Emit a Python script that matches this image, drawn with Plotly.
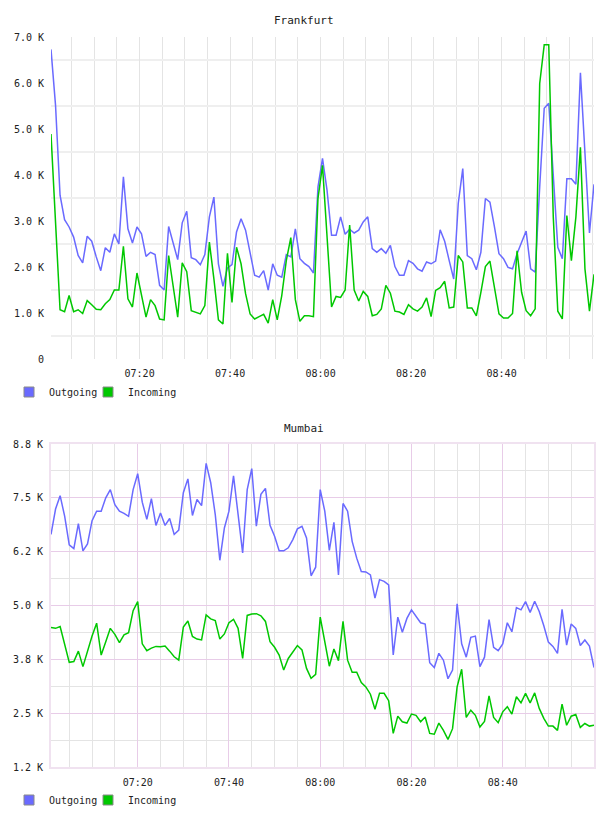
import pandas as pd
import plotly.graph_objects as go

# ---------------- data (values in thousands) ----------------
frankfurt_outgoing = [
    6.73, 5.52, 3.56, 3.03, 2.87, 2.65, 2.25, 2.09, 2.67, 2.56, 2.22, 1.92, 2.42, 2.32, 2.72, 2.50,
    3.96, 2.83, 2.52, 2.87, 2.72, 2.23, 2.32, 2.27, 1.60, 1.50, 2.88, 2.54, 2.16, 2.96, 3.21, 2.20,
    2.16, 2.05, 2.27, 3.09, 3.52, 2.07, 1.58, 1.98, 2.05,
    2.76, 3.05, 2.80, 2.30, 1.82, 1.78, 1.92, 1.50, 2.07, 1.82, 1.78, 2.27, 2.22, 2.83, 2.18, 2.08,
    2.01, 1.87, 3.74, 4.36, 3.67, 2.69, 2.69, 3.09, 2.71, 2.82, 2.74, 2.80, 2.98, 3.09, 2.40, 2.32,
    2.40, 2.30, 2.47, 2.01, 1.82, 1.82, 2.14, 2.08,
    1.96, 1.91, 2.11, 2.07, 2.13, 2.81, 2.56, 2.14, 1.74, 3.38, 4.14, 2.25, 2.18, 1.94, 2.32, 3.49,
    3.41, 2.87, 2.29, 2.18, 1.99, 1.96, 2.29, 2.54, 2.78, 1.96, 1.89, 3.74, 5.45, 5.56, 3.96, 2.43,
    2.18, 3.92, 3.92, 3.80, 6.22, 4.39, 2.74, 3.80,
]
frankfurt_incoming = [
    4.89, 2.90, 1.07, 1.03, 1.38, 1.03, 1.07, 0.99, 1.27, 1.18, 1.08, 1.07, 1.20, 1.29, 1.50, 1.50,
    2.45, 1.31, 1.13, 1.87, 1.38, 0.91, 1.29, 1.16, 0.87, 0.85, 2.25, 1.60, 0.91, 2.09, 1.90, 1.05,
    1.02, 0.98, 1.16, 2.54, 1.74, 0.85, 0.76, 2.30, 1.23,
    2.43, 2.07, 1.42, 0.98, 0.87, 0.92, 0.97, 0.78, 1.29, 0.85, 1.38, 2.14, 2.64, 1.29, 0.82, 0.94,
    0.94, 0.92, 3.49, 4.21, 2.72, 1.13, 1.36, 1.34, 1.50, 2.91, 1.50, 1.26, 1.47, 1.36, 0.94, 0.97,
    1.09, 1.60, 1.43, 1.04, 1.02, 0.97, 1.18, 1.09,
    1.04, 1.13, 1.33, 0.92, 1.49, 1.55, 1.69, 1.11, 1.13, 2.25, 2.11, 1.11, 1.11, 0.94, 1.45, 2.01,
    2.13, 1.56, 0.98, 0.89, 0.89, 0.99, 2.35, 1.45, 1.05, 0.94, 1.09, 5.99, 6.83, 6.83, 3.09, 1.04,
    0.87, 3.12, 2.14, 3.09, 4.60, 1.96, 1.04, 1.84,
]
mumbai_outgoing = [
    6.65, 7.24, 7.55, 7.07, 6.41, 6.32, 6.90, 6.27, 6.43, 6.97, 7.19, 7.19, 7.50, 7.69, 7.34, 7.19,
    7.14, 7.07, 7.69, 8.06, 7.40, 7.00, 7.48, 6.86, 7.15, 6.86, 7.02, 6.65, 6.75, 7.62, 7.94, 7.09,
    7.46, 7.32, 8.30, 7.85, 7.11, 6.05, 6.80, 7.19, 8.01,
    7.11, 6.22, 7.69, 8.18, 6.84, 7.58, 7.72, 6.86, 6.61, 6.27, 6.27, 6.34, 6.53, 6.78, 6.84, 6.57,
    5.69, 5.89, 7.69, 7.19, 6.28, 6.93, 5.71, 7.37, 7.19, 6.49, 6.10, 5.79, 5.78, 5.71, 5.17, 5.60,
    5.56, 5.48, 3.85, 4.73, 4.38, 4.70, 4.90, 4.76,
    4.60, 4.57, 3.67, 3.56, 3.89, 3.73, 3.30, 3.50, 5.04, 4.11, 3.80, 4.26, 4.29, 3.58, 3.80, 4.67,
    4.03, 3.95, 4.11, 4.60, 4.39, 4.95, 4.90, 5.09, 4.84, 5.10, 4.86, 4.53, 4.15, 4.05, 3.89, 4.91,
    4.08, 4.57, 4.47, 4.07, 4.20, 4.06, 3.56,
]
mumbai_incoming = [
    4.49, 4.47, 4.51, 4.11, 3.68, 3.70, 3.94, 3.58, 3.94, 4.29, 4.59, 3.85, 4.16, 4.47, 4.33, 4.14,
    4.32, 4.37, 4.88, 5.09, 4.11, 3.95, 4.01, 4.05, 4.04, 4.06, 3.94, 3.81, 3.73, 4.50, 4.64, 4.28,
    4.22, 4.20, 4.78, 4.69, 4.65, 4.22, 4.34, 4.60, 4.68,
    4.47, 3.77, 4.77, 4.80, 4.81, 4.76, 4.63, 4.16, 4.03, 3.85, 3.50, 3.77, 3.93, 4.07, 3.97, 3.54,
    3.31, 3.40, 4.73, 4.12, 3.59, 3.99, 3.72, 4.63, 3.73, 3.45, 3.45, 3.21, 3.11, 2.94, 2.59, 2.96,
    2.96, 2.79, 2.03, 2.43, 2.30, 2.27, 2.48, 2.45,
    2.30, 2.41, 2.03, 2.01, 2.27, 2.10, 1.89, 2.14, 3.11, 3.52, 2.40, 2.57, 2.45, 2.18, 2.31, 2.90,
    2.40, 2.28, 2.53, 2.65, 2.48, 2.88, 2.74, 2.96, 2.74, 2.97, 2.61, 2.38, 2.20, 2.20, 2.10, 2.71,
    2.22, 2.43, 2.47, 2.17, 2.26, 2.20, 2.22,
]

frankfurt_start = "2024-01-01 07:00:25"
mumbai_start = "2024-01-01 07:01:00"

time_tickvals = ["2024-01-01 07:20", "2024-01-01 07:40", "2024-01-01 08:00",
                 "2024-01-01 08:20", "2024-01-01 08:40"]
time_ticktext = ["07:20", "07:40", "08:00", "08:20", "08:40"]

frankfurt_yticks = [0, 1, 2, 3, 4, 5, 6, 7]
frankfurt_yticktext = ["0", "1.0 K", "2.0 K", "3.0 K", "4.0 K", "5.0 K", "6.0 K", "7.0 K"]
mumbai_yticks = [1.25, 2.5, 3.75, 5.0, 6.25, 7.5, 8.75]
mumbai_yticktext = ["1.2 K", "2.5 K", "3.8 K", "5.0 K", "6.2 K", "7.5 K", "8.8 K"]

series_names = ["Outgoing", "Incoming"]
titles = ["Frankfurt", "Mumbai"]

# ---------------- styling ----------------
FONT = "DejaVu Sans Mono"
BLUE = "#6a6aff"
GREEN = "#00c800"
GRID_GRAY = "#e4e4e4"
GRID_LIGHT = "#efefef"
PURPLE = "#e8cce8"
BORDER = "#f0e2f0"

t_fr = pd.date_range(frankfurt_start, periods=len(frankfurt_outgoing), freq="1min")
t_mu = pd.date_range(mumbai_start, periods=len(mumbai_outgoing), freq="1min")

fig = go.Figure()

fig.add_trace(go.Scatter(x=t_fr, y=frankfurt_outgoing, mode="lines", name=series_names[0],
                         line=dict(color=BLUE, width=1.5), xaxis="x", yaxis="y", showlegend=False))
fig.add_trace(go.Scatter(x=t_fr, y=frankfurt_incoming, mode="lines", name=series_names[1],
                         line=dict(color=GREEN, width=1.5), xaxis="x", yaxis="y", showlegend=False))
fig.add_trace(go.Scatter(x=t_mu, y=mumbai_outgoing, mode="lines", name=series_names[0],
                         line=dict(color=BLUE, width=1.5), xaxis="x2", yaxis="y2", showlegend=False))
fig.add_trace(go.Scatter(x=t_mu, y=mumbai_incoming, mode="lines", name=series_names[1],
                         line=dict(color=GREEN, width=1.5), xaxis="x2", yaxis="y2", showlegend=False))

W, H = 608, 816


def px_x(p):
    return p / W


def px_y(p):
    return 1 - p / H


# one single-entry legend per swatch so that each can be placed like the original
legend_ids = [["legend", "legend2"], ["legend3", "legend4"]]
legend_rows = [392, 800]
legend_cols = [9, 88]
axes_pairs = [("x", "y"), ("x2", "y2")]
legend_layout = {}
for chart in range(2):
    xa, ya = axes_pairs[chart]
    for k, (name, col) in enumerate(zip(series_names, [BLUE, GREEN])):
        lid = legend_ids[chart][k]
        fig.add_trace(go.Scatter(x=[None], y=[None], mode="markers", name=name, legend=lid,
                                 xaxis=xa, yaxis=ya,
                                 marker=dict(symbol="square", size=10, color=col,
                                             line=dict(color="#8a8a8a", width=1))))
        legend_layout[lid] = dict(
            x=px_x(legend_cols[k]), xanchor="left", y=px_y(legend_rows[chart]), yanchor="middle",
            font=dict(family=FONT, size=10, color="#222"), bgcolor="rgba(0,0,0,0)",
            itemclick=False, itemdoubleclick=False)

tickfont = dict(family=FONT, size=10, color="#222")


def xaxis_style(t, anchor, major_color):
    return dict(
        domain=[px_x(51), px_x(594)], anchor=anchor, automargin=False,
        range=[t[0], t[-1]], type="date",
        tickvals=time_tickvals, ticktext=time_ticktext,
        showgrid=True, gridcolor=major_color, gridwidth=1,
        minor=dict(dtick=5 * 60 * 1000, tick0="2024-01-01 07:00:00", showgrid=True,
                   gridcolor=GRID_GRAY, gridwidth=1),
        ticks="outside", ticklen=5, tickcolor="rgba(0,0,0,0)",
        zeroline=False, tickfont=tickfont, fixedrange=True,
    )


xa1 = xaxis_style(t_fr, "y", GRID_GRAY)
xa1.update(showline=False)
xa2 = xaxis_style(t_mu, "y2", PURPLE)
xa2.update(showline=True, mirror=True, linecolor=BORDER, linewidth=2)

fig.update_layout(
    width=W, height=H,
    margin=dict(l=0, r=0, t=0, b=0, autoexpand=False),
    paper_bgcolor="white", plot_bgcolor="white",
    font=dict(family=FONT, size=10, color="#222"),
    xaxis=xa1,
    yaxis=dict(
        domain=[px_y(359), px_y(37)], anchor="x", automargin=False,
        range=[0, 7], tickvals=frankfurt_yticks, ticktext=frankfurt_yticktext,
        showgrid=False,
        minor=dict(tick0=0.5, dtick=1, showgrid=True, gridcolor=GRID_LIGHT, gridwidth=2),
        ticks="outside", ticklen=4, tickcolor="rgba(0,0,0,0)",
        showline=False, zeroline=False, tickfont=tickfont, fixedrange=True,
    ),
    xaxis2=xa2,
    yaxis2=dict(
        domain=[px_y(767), px_y(444)], anchor="x2", automargin=False,
        range=[1.25, 8.75], tickvals=mumbai_yticks, ticktext=mumbai_yticktext,
        showgrid=True, gridcolor=PURPLE, gridwidth=1,
        minor=dict(tick0=1.25, dtick=0.625, showgrid=True, gridcolor=GRID_GRAY, gridwidth=1),
        ticks="outside", ticklen=4, tickcolor="rgba(0,0,0,0)",
        showline=True, mirror=True, linecolor=BORDER, linewidth=2,
        zeroline=False, tickfont=tickfont, fixedrange=True,
    ),
    annotations=[
        dict(text=titles[0], xref="paper", yref="paper", x=0.5, y=px_y(20), showarrow=False,
             xanchor="center", yanchor="middle", font=dict(family=FONT, size=11, color="#222")),
        dict(text=titles[1], xref="paper", yref="paper", x=0.5, y=px_y(428), showarrow=False,
             xanchor="center", yanchor="middle", font=dict(family=FONT, size=11, color="#222")),
    ],
    **legend_layout,
)

fig.write_html("out.html")
